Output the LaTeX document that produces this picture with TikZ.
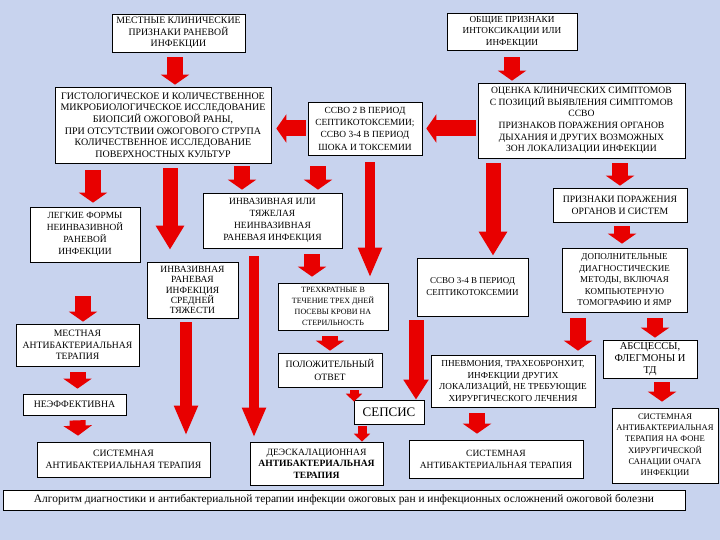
\documentclass[tikz,border=0pt]{standalone}
\usepackage{fontspec}
\setmainfont{Liberation Serif}
\usetikzlibrary{arrows.meta,calc,shadows}
\definecolor{bg}{RGB}{200,211,238}
\definecolor{ared}{RGB}{232,0,0}
\newcommand\fsz[2]{\fontsize{#1}{#2}\selectfont}
\begin{document}
\begin{tikzpicture}[x=1pt,y=-1pt,
 bx/.style={draw=black,line width=0.7pt,fill=white,align=center,inner sep=1pt,font=\fsz{9.5}{11.5},
   drop shadow={shadow xshift=1.2pt,shadow yshift=-1.2pt,fill=black!60,opacity=1}},
 fat/.style={draw=ared,line width=16pt,-{Triangle[width=28pt,length=10pt]}},
 longa/.style={draw=ared,line width=15pt,-{Triangle[width=27pt,length=24pt]}},
 thinlong/.style={draw=ared,line width=10pt,-{Triangle[width=22pt,length=30pt]}},
 smalla/.style={draw=ared,line width=9pt,-{Triangle[width=16pt,length=8pt]}}]
\fill[bg] (0,0) rectangle (720,540);
\useasboundingbox (0,0) rectangle (720,540);

\node[bx,minimum width=133pt,minimum height=38pt,font=\fsz{9.8}{11.5}] (b1) at (178.5,33) {МЕСТНЫЕ КЛИНИЧЕСКИЕ\\ПРИЗНАКИ РАНЕВОЙ\\ИНФЕКЦИИ};
\node[bx,minimum width=130pt,minimum height=37pt,font=\fsz{9.2}{11.5}] (b2) at (512,31.5) {ОБЩИЕ ПРИЗНАКИ\\ИНТОКСИКАЦИИ ИЛИ\\ИНФЕКЦИИ};
\node[bx,minimum width=216pt,minimum height=76pt,font=\fsz{10}{11.6}] (b3) at (163,125) {ГИСТОЛОГИЧЕСКОЕ И КОЛИЧЕСТВЕННОЕ\\МИКРОБИОЛОГИЧЕСКОЕ ИССЛЕДОВАНИЕ\\БИОПСИЙ ОЖОГОВОЙ РАНЫ,\\ПРИ ОТСУТСТВИИ ОЖОГОВОГО СТРУПА\\КОЛИЧЕСТВЕННОЕ ИССЛЕДОВАНИЕ\\ПОВЕРХНОСТНЫХ КУЛЬТУР};
\node[bx,minimum width=114pt,minimum height=53pt,font=\fsz{9.4}{12.3}] (b4) at (365,128.5) {ССВО 2 В ПЕРИОД\\СЕПТИКОТОКСЕМИИ;\\ССВО 3-4 В ПЕРИОД\\ШОКА И ТОКСЕМИИ};
\node[bx,minimum width=207pt,minimum height=75pt,font=\fsz{9.6}{11.6}] (b5) at (581.5,120.5) {ОЦЕНКА КЛИНИЧЕСКИХ СИМПТОМОВ\\С ПОЗИЦИЙ ВЫЯВЛЕНИЯ СИМПТОМОВ\\ССВО\\ПРИЗНАКОВ ПОРАЖЕНИЯ ОРГАНОВ\\ДЫХАНИЯ И ДРУГИХ ВОЗМОЖНЫХ\\ЗОН ЛОКАЛИЗАЦИИ ИНФЕКЦИИ};
\node[bx,minimum width=110pt,minimum height=55pt,font=\fsz{9.4}{12}] (b6) at (85,234.5) {ЛЕГКИЕ ФОРМЫ\\НЕИНВАЗИВНОЙ\\РАНЕВОЙ\\ИНФЕКЦИИ};
\node[bx,minimum width=139pt,minimum height=55pt,font=\fsz{9.5}{12}] (b7) at (272.5,220.5) {ИНВАЗИВНАЯ ИЛИ\\ТЯЖЕЛАЯ\\НЕИНВАЗИВНАЯ\\РАНЕВАЯ ИНФЕКЦИЯ};
\node[bx,minimum width=134pt,minimum height=34pt,font=\fsz{9.7}{12}] (b8) at (620,205) {ПРИЗНАКИ ПОРАЖЕНИЯ\\ОРГАНОВ И СИСТЕМ};
\node[bx,minimum width=125pt,minimum height=64pt,font=\fsz{9}{11.5}] (b9) at (624.5,280) {ДОПОЛНИТЕЛЬНЫЕ\\ДИАГНОСТИЧЕСКИЕ\\МЕТОДЫ, ВКЛЮЧАЯ\\КОМПЬЮТЕРНУЮ\\ТОМОГРАФИЮ И ЯМР};
\node[bx,minimum width=91pt,minimum height=56pt,font=\fsz{9.5}{10.4}] (b10) at (192.5,290) {ИНВАЗИВНАЯ\\РАНЕВАЯ\\ИНФЕКЦИЯ\\СРЕДНЕЙ\\ТЯЖЕСТИ};
\node[bx,minimum width=110pt,minimum height=47pt,font=\fsz{8}{11}] (b11) at (333,306.5) {ТРЕХКРАТНЫЕ В\\ТЕЧЕНИЕ ТРЕХ ДНЕЙ\\ПОСЕВЫ КРОВИ НА\\СТЕРИЛЬНОСТЬ};
\node[bx,minimum width=111pt,minimum height=58pt,font=\fsz{9}{12}] (b12) at (472.5,287) {ССВО 3-4 В ПЕРИОД\\СЕПТИКОТОКСЕМИИ};
\node[bx,minimum width=123pt,minimum height=42pt,font=\fsz{9.7}{11.5}] (b13) at (77.5,345) {МЕСТНАЯ\\АНТИБАКТЕРИАЛЬНАЯ\\ТЕРАПИЯ};
\node[bx,minimum width=104pt,minimum height=34pt,font=\fsz{9.7}{13}] (b14) at (330,370) {ПОЛОЖИТЕЛЬНЫЙ\\ОТВЕТ};
\node[bx,minimum width=164pt,minimum height=52pt,font=\fsz{9.2}{11.5}] (b15) at (513,381) {ПНЕВМОНИЯ, ТРАХЕОБРОНХИТ,\\ИНФЕКЦИИ ДРУГИХ\\ЛОКАЛИЗАЦИЙ, НЕ ТРЕБУЮЩИЕ\\ХИРУРГИЧЕСКОГО ЛЕЧЕНИЯ};
\node[bx,minimum width=94pt,minimum height=38pt,font=\fsz{10.5}{12}] (b16) at (650,359) {АБСЦЕССЫ,\\ФЛЕГМОНЫ И\\ТД};
\node[bx,minimum width=103pt,minimum height=21pt,font=\fsz{9.8}{11}] (b17) at (74.5,404.5) {НЕЭФФЕКТИВНА};
\node[bx,minimum width=70pt,minimum height=24pt,font=\fsz{13}{15}] (b18) at (389,412) {СЕПСИС};
\node[bx,minimum width=173pt,minimum height=35pt,font=\fsz{9.7}{12}] (b19) at (123.5,459.5) {СИСТЕМНАЯ\\АНТИБАКТЕРИАЛЬНАЯ ТЕРАПИЯ};
\node[bx,minimum width=133pt,minimum height=43pt,font=\fsz{9.6}{11.5}] (b20) at (316.5,463.5) {ДЕЭСКАЛАЦИОННАЯ\\\textbf{АНТИБАКТЕРИАЛЬНАЯ}\\\textbf{ТЕРАПИЯ}};
\node[bx,minimum width=174pt,minimum height=38pt,font=\fsz{9.5}{12}] (b21) at (496,459) {СИСТЕМНАЯ\\АНТИБАКТЕРИАЛЬНАЯ ТЕРАПИЯ};
\node[bx,minimum width=106pt,minimum height=75pt,font=\fsz{8.6}{11.3}] (b22) at (665,445.5) {СИСТЕМНАЯ\\АНТИБАКТЕРИАЛЬНАЯ\\ТЕРАПИЯ НА ФОНЕ\\ХИРУРГИЧЕСКОЙ\\САНАЦИИ ОЧАГА\\ИНФЕКЦИИ};
\node[bx,minimum width=682pt,minimum height=20pt,font=\fsz{11.4}{12}] (ft) at (344,500) {Алгоритм диагностики и антибактериальной терапии инфекции ожоговых ран и инфекционных осложнений ожоговой болезни};

% arrows
\draw[fat] ([xshift=-3.5pt,yshift=-5pt]b1.south) -- ([xshift=12pt,yshift=2pt]b3.north);
\draw[fat] ([yshift=-7pt]b2.south) -- ([xshift=-69.5pt,yshift=2pt]b5.north);
\draw[fat] ([xshift=-2pt,yshift=-8pt]b5.west) -- ([xshift=4pt]b4.east);
\draw[fat] ([xshift=-2pt]b4.west) -- ([xshift=5pt,yshift=-3.5pt]b3.east);
\draw[fat] ([xshift=-70pt,yshift=-7pt]b3.south) -- ([xshift=8pt,yshift=4pt]b6.north);
\draw[longa] ([xshift=7pt,yshift=-5pt]b3.south) -- ([xshift=-22.5pt,yshift=12pt]b10.north);
\draw[fat] ([xshift=79pt,yshift=-3pt]b3.south) -- ([xshift=-30.5pt,yshift=3pt]b7.north);
\draw[fat] ([xshift=-47pt,yshift=-11pt]b4.south) -- ([xshift=45.5pt,yshift=3pt]b7.north);
\draw[thinlong] ([xshift=5pt,yshift=-7pt]b4.south) -- ([xshift=37pt,yshift=5pt]b11.north);
\draw[longa] ([xshift=-88.5pt,yshift=-5pt]b5.south) -- ([xshift=20.5pt,yshift=2pt]b12.north);
\draw[fat] ([xshift=38.5pt,yshift=-5pt]b5.south) -- ([yshift=2pt]b8.north);
\draw[fat] ([xshift=2pt,yshift=-4pt]b8.south) -- ([xshift=-2.5pt,yshift=4pt]b9.north);
\draw[fat] ([xshift=-2pt,yshift=-34pt]b6.south) -- ([xshift=5.5pt,yshift=2pt]b13.north);
\draw[thinlong] ([xshift=-18.5pt,yshift=-8pt]b7.south) -- ([xshift=-62.5pt,yshift=4pt]b20.north);
\draw[fat] ([xshift=39.5pt,yshift=-6pt]b7.south) -- ([xshift=-21pt,yshift=6pt]b11.north);
\draw[thinlong,line width=12pt] ([xshift=-6.5pt,yshift=-4pt]b10.south) -- ([xshift=62.5pt,yshift=6pt]b19.north);
\draw[fat] ([xshift=-3pt,yshift=-6pt]b11.south) -- ([yshift=2pt]b14.north);
\draw[longa,-{Triangle[width=24pt,length=20pt]}] ([xshift=-56.5pt,yshift=-4pt]b12.south) -- ([xshift=27pt]b18.north);
\draw[smalla] ([xshift=24pt,yshift=-3pt]b14.south) -- ([xshift=-35pt,yshift=-2pt]b18.north);
\draw[smalla] ([xshift=-27pt,yshift=-2pt]b18.south) -- ([xshift=45.5pt]b20.north);
\draw[fat] ([yshift=-6pt]b13.south) -- ([xshift=3pt,yshift=5pt]b17.north);
\draw[fat] ([xshift=3pt,yshift=-5pt]b17.south) -- ([xshift=-45.5pt,yshift=6pt]b19.north);
\draw[fat] ([xshift=-46.5pt,yshift=-6pt]b9.south) -- ([xshift=65pt,yshift=4pt]b15.north);
\draw[fat] ([xshift=30.5pt,yshift=-6pt]b9.south) -- ([xshift=5pt,yshift=2pt]b16.north);
\draw[fat] ([xshift=-36pt,yshift=-6pt]b15.south) -- ([xshift=-19pt,yshift=6pt]b21.north);
\draw[fat] ([xshift=12pt,yshift=-4pt]b16.south) -- ([xshift=-3pt,yshift=6pt]b22.north);
\end{tikzpicture}
\end{document}
